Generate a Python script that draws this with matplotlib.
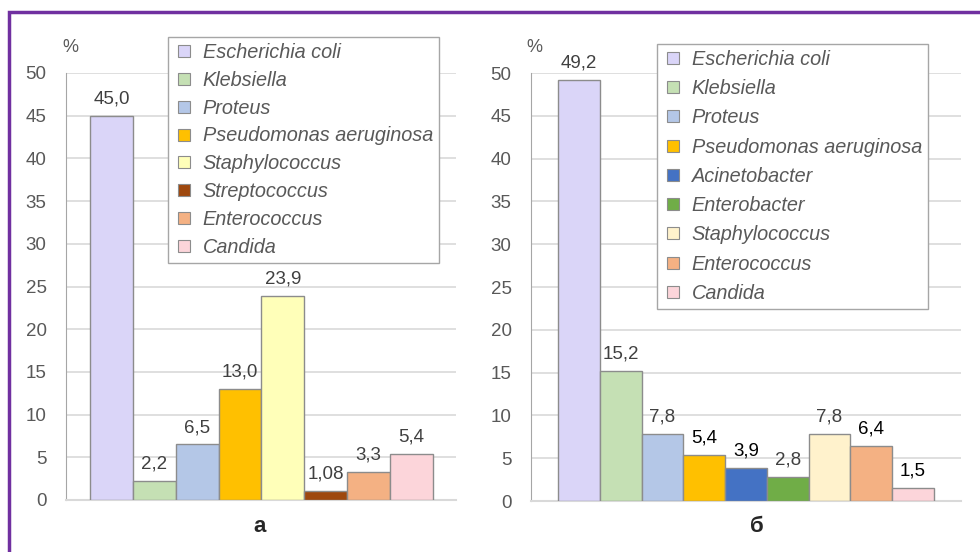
import matplotlib
matplotlib.use("Agg")
import matplotlib.pyplot as plt
from matplotlib.patches import Rectangle
from matplotlib.lines import Line2D

plt.rcParams['font.family'] = ['Liberation Sans', 'DejaVu Sans']

# Panel a
names_a = ["Escherichia coli", "Klebsiella", "Proteus", "Pseudomonas aeruginosa",
           "Staphylococcus", "Streptococcus", "Enterococcus", "Candida"]
values_a = [45.0, 2.2, 6.5, 13.0, 23.9, 1.08, 3.3, 5.4]
labels_a = ["45,0", "2,2", "6,5", "13,0", "23,9", "1,08", "3,3", "5,4"]
colors_a = ["#DAD5F8", "#C5E0B4", "#B4C7E7", "#FFC000", "#FFFFB9", "#9E480E", "#F4B183", "#FCD5DA"]
labcol_a = ["#404040"] * 8

# Panel b
names_b = ["Escherichia coli", "Klebsiella", "Proteus", "Pseudomonas aeruginosa",
           "Acinetobacter", "Enterobacter", "Staphylococcus", "Enterococcus", "Candida"]
values_b = [49.2, 15.2, 7.8, 5.4, 3.9, 2.8, 7.8, 6.4, 1.5]
labels_b = ["49,2", "15,2", "7,8", "5,4", "3,9", "2,8", "7,8", "6,4", "1,5"]
colors_b = ["#DAD5F8", "#C5E0B4", "#B4C7E7", "#FFC000", "#4472C4", "#70AD47", "#FFF2CC", "#F4B183", "#FCD5DA"]
labcol_b = ["#404040", "#404040", "#404040", "#000000", "#000000", "#404040", "#404040", "#000000", "#000000"]

yticks = [0, 5, 10, 15, 20, 25, 30, 35, 40, 45, 50]

W, H = 980, 552
fig = plt.figure(figsize=(9.8, 5.52), dpi=100)

def fx(p): return p / W
def fy(p): return 1 - p / H

def panel(left, right, y0, y50, names, values, labels, colors, labcols, xpad_l, xpad_r,
          leg_anchor, leg_spacing, title, title_x):
    ax = fig.add_axes([fx(left), fy(y0), fx(right) - fx(left), fy(y50) - fy(y0)])
    x = list(range(len(values)))
    ax.bar(x, values, width=1.0, color=colors, edgecolor="#8C8C8C", linewidth=1.0, zorder=3)
    ax.set_xlim(-0.5 - xpad_l, len(values) - 0.5 + xpad_r)
    ax.set_ylim(0, 50)
    ax.set_yticks(yticks)
    ax.set_yticklabels([str(t) for t in yticks], fontsize=13.5, color="#595959")
    ax.tick_params(axis='y', length=0, pad=14)
    ax.set_xticks([])
    ax.grid(axis='y', color="#D9D9D9", linewidth=1.2, zorder=0)
    for s in ["top", "right"]:
        ax.spines[s].set_visible(False)
    ax.spines["left"].set_color("#A6A6A6")
    ax.spines["bottom"].set_color("#D9D9D9")
    ax.spines["bottom"].set_linewidth(1.5)
    for xi, v, lab, c in zip(x, values, labels, labcols):
        ax.annotate(lab, (xi, v), xytext=(0, 6), textcoords="offset points",
                    ha="center", va="bottom", fontsize=13.5, color=c)
    ax.text(-0.01, 1.04, "%", transform=ax.transAxes, fontsize=13, color="#595959",
            ha="left", va="bottom")
    handles = [Line2D([], [], marker="s", linestyle="none", markersize=8,
                      markerfacecolor=c, markeredgecolor="#8C8C8C", markeredgewidth=0.8)
               for c in colors]
    leg = fig.legend(handles, names, loc="upper left",
                     bbox_to_anchor=(fx(leg_anchor[0]), fy(leg_anchor[1])),
                     frameon=True, fancybox=False, framealpha=1, edgecolor="#A6A6A6",
                     prop={"style": "italic", "size": 14.3}, labelcolor="#595959",
                     borderaxespad=0, labelspacing=leg_spacing, handletextpad=0.45,
                     handlelength=1.0, borderpad=0.3)
    leg.get_frame().set_linewidth(1.0)
    fig.text(fx(title_x), fy(527), title, fontsize=16, fontweight="bold",
             ha="center", va="center", color="#262626")
    return ax

panel(66, 456, 500, 73, names_a, values_a, labels_a, colors_a, labcol_a, 0.56, 0.54,
      (168, 37), 0.445, "а", 260)
panel(531, 961, 501, 73, names_b, values_b, labels_b, colors_b, labcol_b, 0.65, 0.65,
      (657, 44), 0.515, "б", 757)

border = Rectangle((fx(9), fy(600)), 1.2, fy(12) - fy(600), transform=fig.transFigure,
                   fill=False, edgecolor="#7030A0", linewidth=2.5, clip_on=False)
fig.patches.append(border)

fig.savefig("out.png", dpi=100, facecolor="white")
